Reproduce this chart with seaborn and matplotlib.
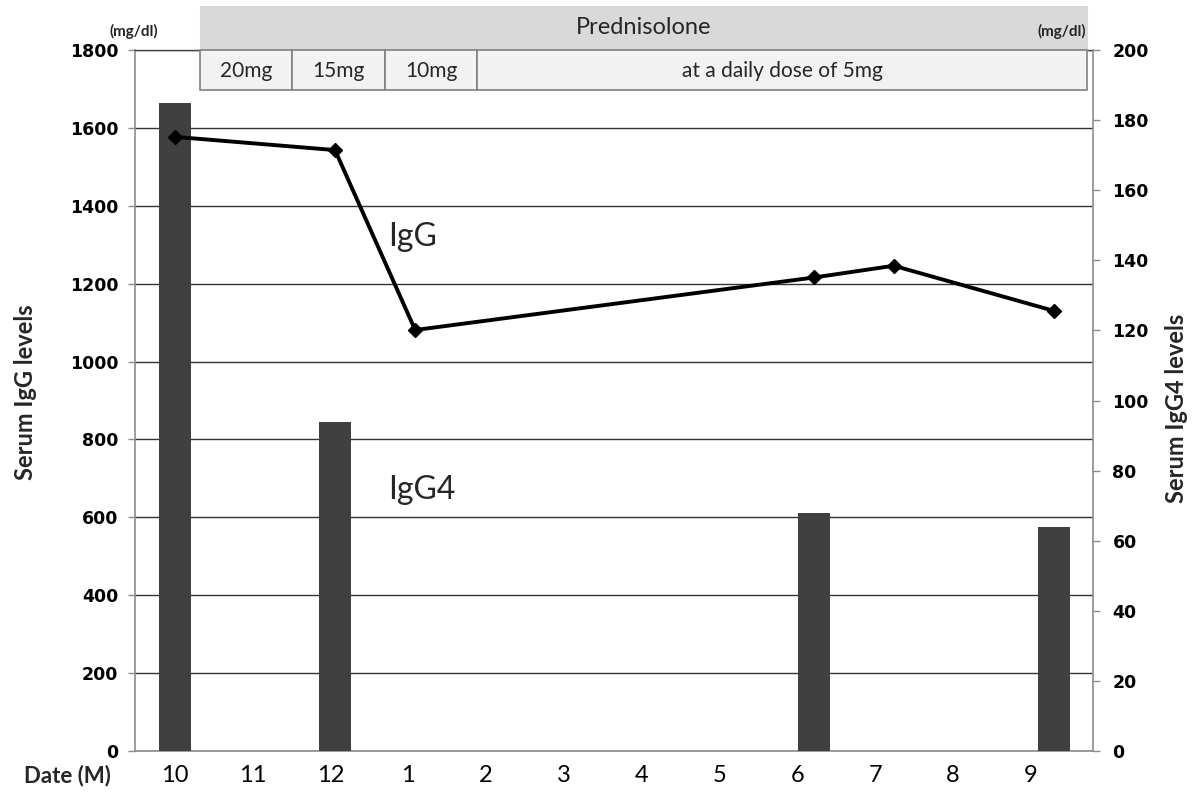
import numpy as np
import pandas as pd
import matplotlib
matplotlib.use("Agg")
import matplotlib.pyplot as plt
from matplotlib.patches import Rectangle
import seaborn as sns

# ---------------- data ----------------
month_labels = ["10", "11", "12", "1", "2", "3", "4", "5", "6", "7", "8", "9"]
igg_month_pos = [0.0, 2.06, 3.09, 8.22, 9.24, 11.30]        # months since Oct (measurement dates)
igg_values = [1577, 1543, 1081, 1216, 1246, 1130]            # mg/dl, left axis
igg4_month_pos = [0.0, 2.06, 8.22, 11.30]
igg4_values = [185, 94, 68, 64]                              # mg/dl, right axis
left_ticks = [0, 200, 400, 600, 800, 1000, 1200, 1400, 1600, 1800]
right_ticks = [0, 20, 40, 60, 80, 100, 120, 140, 160, 180, 200]
dose_labels = ["20mg", "15mg", "10mg", "at a daily dose of 5mg"]

W, H = 1200, 797
sns.set_theme(style="white")
plt.rcParams["font.family"] = ["DejaVu Sans"]
CAL = ["Lato", "DejaVu Sans"]

fig = plt.figure(figsize=(W / 100, H / 100), dpi=100)
fig.patch.set_facecolor("white")

def fx(px):
    return px / W

def fy(py):
    return 1 - py / H

ax_l, ax_r, ax_t, ax_b = 135, 1093, 50, 751
ax = fig.add_axes([fx(ax_l), fy(ax_b), fx(ax_r - ax_l), (ax_b - ax_t) / H])   # left scale + grid
ax2 = ax.twinx()   # right scale, bars
ax3 = ax.twinx()   # left scale, line on top

# ---- bottom: left axis with grid ----
ax.set_ylim(0, 1800)
ax.set_yticks(left_ticks)
ax.set_yticklabels([str(t) for t in left_ticks], fontweight="bold", fontsize=12.5)
ax.set_xlim(-0.51, 11.80)
ax.set_xticks(range(len(month_labels)))
ax.set_xticklabels(month_labels, fontsize=17, family=CAL)
ax.grid(axis="y", color="#333333", linewidth=1.0)
ax.grid(axis="x", visible=False)

# ---- middle: bars (IgG4) on the right axis ----
bar_df = pd.DataFrame({"pos": igg4_month_pos, "val": igg4_values})
bar_w_months = 0.41
min_gap = np.min(np.diff(sorted(igg4_month_pos)))
sns.barplot(data=bar_df, x="pos", y="val", native_scale=True, ax=ax2,
            color="#404040", saturation=1, width=bar_w_months / min_gap,
            errorbar=None, linewidth=0)
ax2.set_ylim(0, 200)
ax2.set_yticks(right_ticks)
ax2.set_yticklabels([str(t) for t in right_ticks], fontweight="bold", fontsize=12.5)
ax2.grid(False)
ax2.set_xlabel("")
ax2.set_ylabel("")

# ---- top: line (IgG) on the left scale ----
line_df = pd.DataFrame({"pos": igg_month_pos, "val": igg_values})
sns.lineplot(data=line_df, x="pos", y="val", ax=ax3, color="black",
             linewidth=2.8, marker="D", markersize=7.5, markeredgewidth=1,
             markerfacecolor="black", markeredgecolor="black")
ax3.set_ylim(0, 1800)
ax3.grid(False)
ax3.set_xlabel("")
ax3.set_ylabel("")
ax3.yaxis.set_visible(False)
for s in ax3.spines.values():
    s.set_visible(False)

ax.set_xlim(-0.51, 11.80)
ax.set_xlabel("")
ax.set_ylabel("")

ax.set_zorder(1)
ax2.set_zorder(2)
ax3.set_zorder(3)
ax.patch.set_visible(True)
ax.patch.set_facecolor("white")
ax2.patch.set_visible(False)
ax3.patch.set_visible(False)

for s in ax.spines.values():
    s.set_color("#8c8c8c")
    s.set_linewidth(1.2)
ax.spines["top"].set_color("#444444")
ax.spines["top"].set_linewidth(1.0)
ax.spines["right"].set_visible(False)
for side in ("left", "bottom", "top"):
    ax2.spines[side].set_visible(False)
ax2.spines["right"].set_color("#8c8c8c")
ax2.spines["right"].set_linewidth(1.2)

ax.tick_params(axis="y", direction="out", length=5, width=1, color="#8c8c8c",
               pad=7, labelcolor="black", left=True, right=False)
ax.tick_params(axis="x", length=0, pad=10, labelcolor="black")
ax2.tick_params(axis="y", direction="out", length=5, width=1, color="#8c8c8c",
                pad=9, labelcolor="black", right=True)

# ---------------- annotations ----------------
fig.text(fx(26), fy(392), "Serum IgG levels", rotation=90, ha="center", va="center",
         fontsize=17, fontweight="bold", family=CAL)
fig.text(fx(1177), fy(408), "Serum IgG4 levels", rotation=90, ha="center", va="center",
         fontsize=17, fontweight="bold", family=CAL)
fig.text(fx(67), fy(776), "Date (M)", ha="center", va="center",
         fontsize=16, fontweight="bold", family=CAL)
fig.text(fx(134), fy(31), "(mg/dl)", ha="center", va="center",
         fontsize=11, fontweight="bold", family=CAL)
fig.text(fx(388), fy(237), "IgG", ha="left", va="center", fontsize=23, family=CAL)
fig.text(fx(388), fy(490), "IgG4", ha="left", va="center", fontsize=23, family=CAL)

# treatment table
hdr = Rectangle((fx(200), fy(50)), fx(887), (50 - 6) / H, transform=fig.transFigure,
                facecolor="#d9d9d9", edgecolor="#d9d9d9", linewidth=0.8, zorder=10)
fig.add_artist(hdr)
fig.text(fx(643.5), fy(28), "Prednisolone", ha="center", va="center",
         fontsize=17, family=CAL, zorder=11)
fig.text(fx(1086), fy(31), "(mg/dl)", ha="right", va="center",
         fontsize=11, fontweight="bold", family=CAL, zorder=11)

dose_edges = [200, 292, 385, 477, 1087]
for i, lab in enumerate(dose_labels):
    x0, x1 = dose_edges[i], dose_edges[i + 1]
    r = Rectangle((fx(x0), fy(90)), fx(x1 - x0), 40 / H, transform=fig.transFigure,
                  facecolor="#f2f2f2", edgecolor="#808080", linewidth=1.2, zorder=10)
    fig.add_artist(r)
    fig.text(fx((x0 + x1) / 2), fy(71), lab, ha="center", va="center",
             fontsize=15, family=CAL, zorder=11)

fig.savefig("out.png", dpi=100, facecolor="white")
